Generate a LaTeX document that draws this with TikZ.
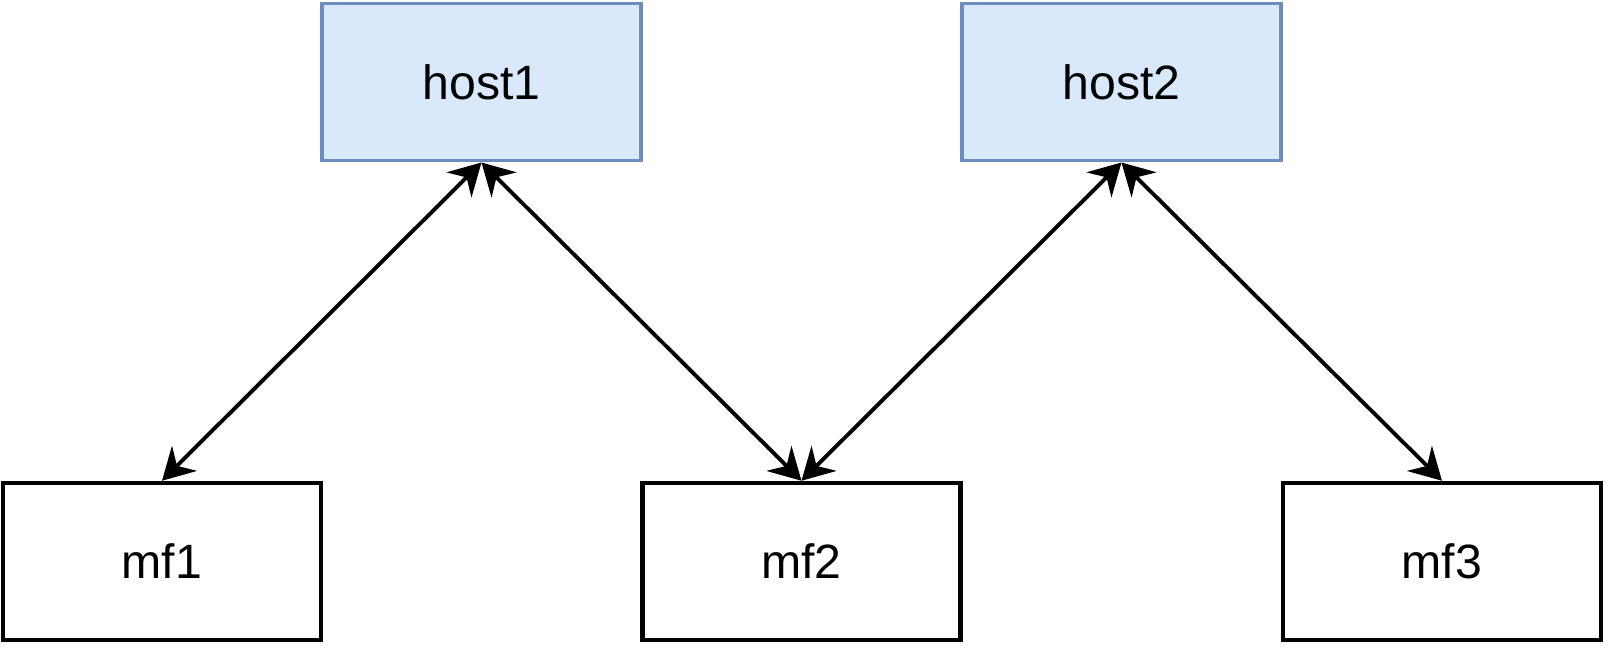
\documentclass[tikz,border=0pt]{standalone}
\usepackage{fontspec}
\setmainfont{Liberation Sans}
\usetikzlibrary{arrows.meta}
\definecolor{hostfill}{HTML}{DAE8FC}
\definecolor{hostline}{HTML}{6C8EBF}
\begin{document}
\begin{tikzpicture}[x=0.01cm,y=-0.01cm,
  box/.style={draw=black,line width=1.25pt,fill=white,minimum width=3.18cm,minimum height=1.57cm,inner sep=0pt,font=\fontsize{13.7pt}{16pt}\selectfont},
  hostbox/.style={box,draw=hostline,fill=hostfill,line width=1.1pt},
  link/.style={line width=1.1pt,{Stealth[length=9pt,width=10pt,inset=3pt]}-{Stealth[length=9pt,width=10pt,inset=3pt]}}]
\useasboundingbox (0,0) rectangle (1608,648);
\node[hostbox] (host1) at (481.5,82) {host1};
\node[hostbox] (host2) at (1121.5,82) {host2};
\node[box] (mf1) at (162,561.5) {mf1};
\node[box] (mf2) at (801.5,561.5) {mf2};
\node[box] (mf3) at (1442,561.5) {mf3};
\draw[link] (host1.south) -- (mf1.north);
\draw[link] (host1.south) -- (mf2.north);
\draw[link] (host2.south) -- (mf2.north);
\draw[link] (host2.south) -- (mf3.north);
\end{tikzpicture}
\end{document}
